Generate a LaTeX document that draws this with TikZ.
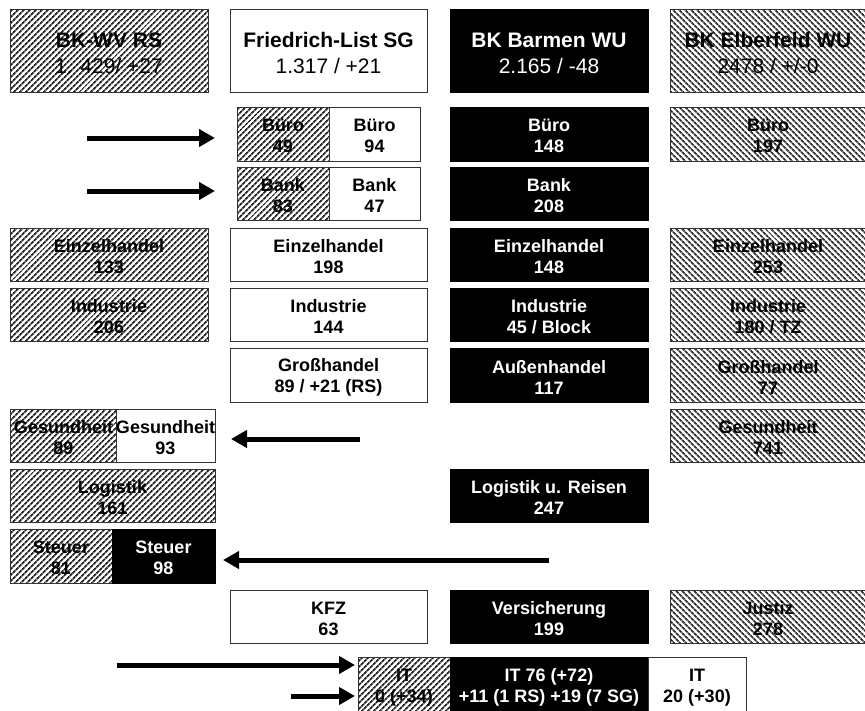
\documentclass[tikz,border=0pt]{standalone}
\usepackage{fontspec}
\setmainfont{Liberation Sans}
\usetikzlibrary{patterns.meta,arrows.meta}
\newcommand\tA{\rule{0pt}{17pt}}
\newcommand\tH{\rule{0pt}{19.5pt}}
\tikzset{
 box/.style={rectangle, inner sep=0pt, outer sep=0pt, align=center, font=\bfseries\fontsize{18}{21}\selectfont, draw=black!80, line width=0.8pt},
 hne/.style={box, pattern={Lines[angle=45,distance=4pt,line width=1.9pt]}, pattern color=black!85},
 hnw/.style={box, pattern={Lines[angle=-45,distance=4pt,line width=1.8pt]}, pattern color=black!80},
 wbox/.style={box, fill=white},
 bbox/.style={box, fill=black, draw=black, text=white},
 head/.style={font=\fontsize{21}{26}\selectfont},
 arr/.style={-{Triangle[length=16pt,width=17pt]}, line width=5pt},
}
\begin{document}
\begin{tikzpicture}[x=1pt,y=-1pt]
\useasboundingbox[fill=white] (0,0) rectangle (865,710);
% headers
\node[hne,head,minimum width=198pt,minimum height=83pt] (rs) at (109,50.5) {\tH{\bfseries BK-WV RS}\\1. 429/ +27};
\node[wbox,head,minimum width=197pt,minimum height=83pt] (sg) at (328.5,50.5) {\tH{\bfseries Friedrich-List SG}\\1.317 / +21};
\node[bbox,head,minimum width=198pt,minimum height=83pt] (wu) at (549,50.5) {\tH{\bfseries BK Barmen WU}\\2.165 / -48};
\node[hnw,head,minimum width=196pt,minimum height=83pt] (el) at (768,50.5) {\tH{\bfseries BK Elberfeld WU}\\2478 / +/-0};
% Buero
\node[hne,minimum width=92pt,minimum height=54pt] (bueroRS) at (283,134) {\tA Büro\\49};
\node[wbox,minimum width=91pt,minimum height=54pt] (bueroSG) at (374.5,134) {\tA Büro\\94};
\node[bbox,minimum width=198pt,minimum height=54pt] (bueroWU) at (549,134) {\tA Büro\\148};
\node[hnw,minimum width=196pt,minimum height=54pt] (bueroEL) at (768,134) {\tA Büro\\197};
% Bank
\node[hne,minimum width=92pt,minimum height=53pt] (bankRS) at (283,193.5) {\tA Bank\\83};
\node[wbox,minimum width=91pt,minimum height=53pt] (bankSG) at (374.5,193.5) {\tA Bank\\47};
\node[bbox,minimum width=198pt,minimum height=53pt] (bankWU) at (549,193.5) {\tA Bank\\208};
% Einzelhandel
\node[hne,minimum width=198pt,minimum height=53pt] (ehRS) at (109,254.5) {\tA Einzelhandel\\133};
\node[wbox,minimum width=197pt,minimum height=53pt] (ehSG) at (328.5,254.5) {\tA Einzelhandel\\198};
\node[bbox,minimum width=198pt,minimum height=53pt] (ehWU) at (549,254.5) {\tA Einzelhandel\\148};
\node[hnw,minimum width=196pt,minimum height=53pt] (ehEL) at (768,254.5) {\tA Einzelhandel\\253};
% Industrie
\node[hne,minimum width=198pt,minimum height=53pt] (inRS) at (109,314.5) {\tA Industrie\\206};
\node[wbox,minimum width=197pt,minimum height=53pt] (inSG) at (328.5,314.5) {\tA Industrie\\144};
\node[bbox,minimum width=198pt,minimum height=53pt] (inWU) at (549,314.5) {\tA Industrie\\45 / Block};
\node[hnw,minimum width=196pt,minimum height=53pt] (inEL) at (768,314.5) {\tA Industrie\\180 / TZ};
% Grosshandel
\node[wbox,minimum width=197pt,minimum height=54pt] (ghSG) at (328.5,375) {\tA Großhandel\\89 / +21 (RS)};
\node[bbox,minimum width=198pt,minimum height=54pt] (ahWU) at (549,375) {\tA Außenhandel\\117};
\node[hnw,minimum width=196pt,minimum height=54pt] (ghEL) at (768,375) {\tA Großhandel\\77};
% Gesundheit
\node[hne,minimum width=107pt,minimum height=53pt] (geRS) at (63.5,435.5) {\tA Gesundheit\\89};
\node[wbox,minimum width=97pt,minimum height=53pt] (geSG) at (165.5,435.5) {\tA Gesundheit\\93};
\node[hnw,minimum width=196pt,minimum height=53pt] (geEL) at (768,435.5) {\tA Gesundheit\\741};
% Logistik
\node[hne,minimum width=205pt,minimum height=53pt] (loRS) at (112.5,495.5) {\tA Logistik\\161};
\node[bbox,minimum width=198pt,minimum height=53pt] (loWU) at (549,495.5) {\tA Logistik u. Reisen\\247};
% Steuer
\node[hne,minimum width=102pt,minimum height=54pt] (stRS) at (61,556) {\tA Steuer\\81};
\node[bbox,minimum width=103pt,minimum height=54pt] (stWU) at (163.5,556) {\tA Steuer\\98};
% KFZ row
\node[wbox,minimum width=197pt,minimum height=53pt] (kfzSG) at (328.5,616.5) {\tA KFZ\\63};
\node[bbox,minimum width=198pt,minimum height=53pt] (vsWU) at (549,616.5) {\tA Versicherung\\199};
\node[hnw,minimum width=196pt,minimum height=53pt] (juEL) at (768,616.5) {\tA Justiz\\278};
% IT
\node[hne,minimum width=92pt,minimum height=56pt] (itRS) at (404,685) {\tA IT\\0 (+34)};
\node[bbox,minimum width=198pt,minimum height=56pt] (itWU) at (549,685) {\tA IT 76 (+72)\\+11 (1 RS) +19 (7 SG)};
\node[wbox,minimum width=98pt,minimum height=56pt] (itSG) at (697,685) {\tA IT\\20 (+30)};
% arrows
\coordinate (a1s) at (87,138);
\coordinate (a1e) at (215,138);
\coordinate (a2s) at (87,191);
\coordinate (a2e) at (215,191);
\coordinate (a3s) at (360,439);
\coordinate (a3e) at (231,439);
\coordinate (a4s) at (549,560);
\coordinate (a4e) at (223,560);
\coordinate (a5s) at (117,665);
\coordinate (a5e) at (355,665);
\coordinate (a6s) at (291,696);
\coordinate (a6e) at (355,696);
\draw[arr] (a1s) -- (a1e);
\draw[arr] (a2s) -- (a2e);
\draw[arr] (a3s) -- (a3e);
\draw[arr] (a4s) -- (a4e);
\draw[arr] (a5s) -- (a5e);
\draw[arr] (a6s) -- (a6e);
\end{tikzpicture}
\end{document}
